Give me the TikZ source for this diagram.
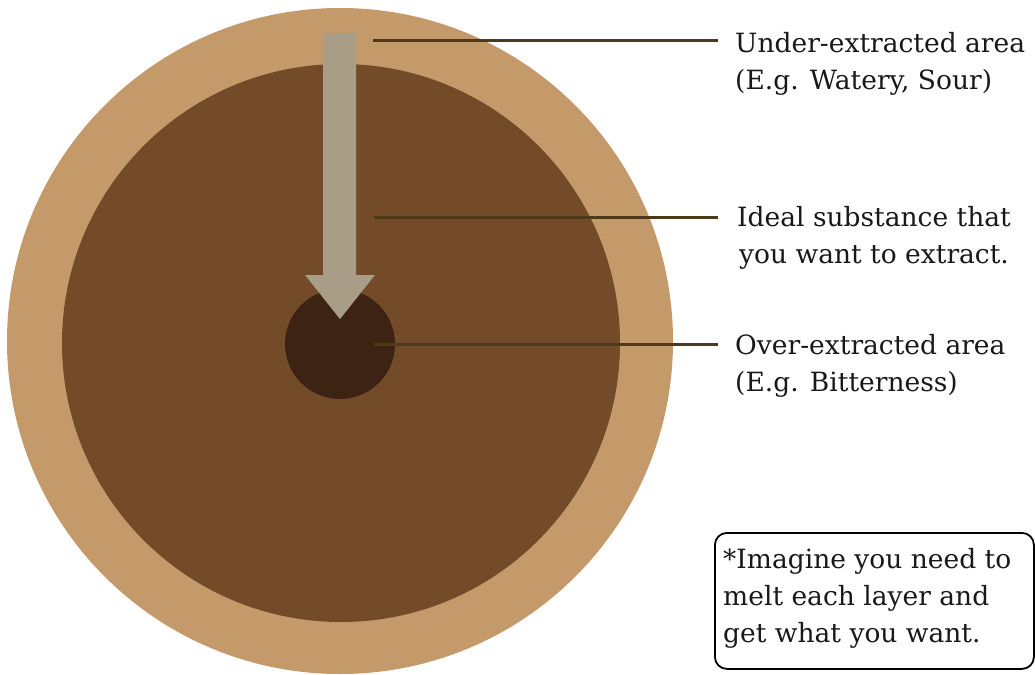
\documentclass[tikz,border=0pt]{standalone}
\usepackage{fontspec}
\setmainfont{DejaVu Serif}
\definecolor{outerc}{HTML}{C59A6B}
\definecolor{innerc}{HTML}{734B28}
\definecolor{corec}{HTML}{3C2314}
\definecolor{arrowc}{HTML}{A89E87}
\definecolor{linec}{HTML}{4D3A1A}
\begin{document}
\begin{tikzpicture}[x=1pt,y=-1pt,
  disc/.style={circle,inner sep=0pt,draw=none},
  leader/.style={draw=linec,line width=3pt},
  lbl/.style={inner sep=0pt,align=left,font=\fontsize{26.5}{37}\selectfont,text=black!90},
  notebox/.style={draw=black,line width=1.8pt,rounded corners=12pt,inner sep=0pt,anchor=north west}]
\useasboundingbox (0,0) rectangle (1035,674);
\fill[white] (0,0) rectangle (1035,674);
\node[disc,fill=outerc,minimum size=666pt] (outer) at (340,341) {};
\node[disc,fill=innerc,minimum size=558pt] (inner) at (341,343) {};
\node[disc,fill=corec,minimum size=110pt] (core) at (340,344) {};
\fill[arrowc] (323,33) -- (356,33) -- (356,275) -- (375,275) -- (340,319) -- (305,275) -- (323,275) -- cycle;
% labels (base anchor = baseline of last line)
\node[lbl,anchor=base west] (t1) at (735,90) {Under-extracted area\\(E.g. Watery, Sour)};
\node[lbl,anchor=base west,align=center] (t2) at (737,263) {Ideal substance that\\ you want to extract.};
\node[lbl,anchor=base west] (t3) at (735,391) {Over-extracted area\\(E.g. Bitterness)};
\coordinate (p1) at (373,41);
\coordinate (p2) at (374,217);
\coordinate (p3) at (374,344);
\coordinate (e1) at (718,41);
\coordinate (e2) at (718,217);
\coordinate (e3) at (718,344);
\draw[leader] (p1) -- (e1);
\draw[leader] (p2) -- (e2);
\draw[leader] (p3) -- (e3);
% note box
\node[notebox,minimum width=319pt,minimum height=136pt] (box) at (714,532) {};
\node[lbl,anchor=base west] (note) at (723,642) {*Imagine you need to\\melt each layer and\\get what you want.};
\end{tikzpicture}
\end{document}
